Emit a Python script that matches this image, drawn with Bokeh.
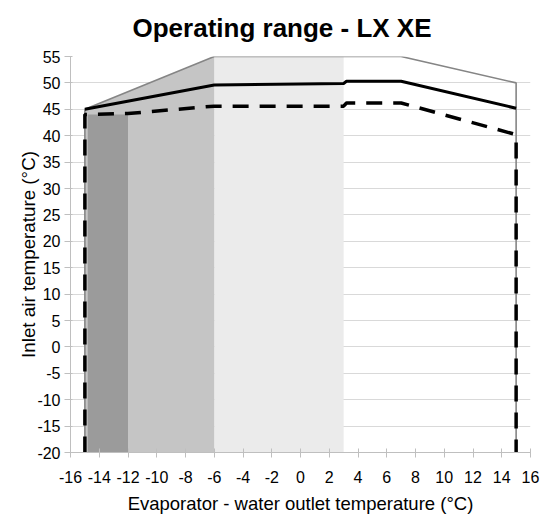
import numpy as np
from bokeh.plotting import figure
from bokeh.models import Range1d, FixedTicker
from bokeh.embed import file_html
from bokeh.resources import INLINE

# Operating envelope (outer limit), °C
envelope_x = [-15, -15, -6, 7, 15, 15]
envelope_y = [-20, 45, 55, 55, 50, -20]

# Upper limit, full load (solid)
solid_x = [-15, -6, 3, 3.2, 7, 15]
solid_y = [45, 49.6, 49.9, 50.3, 50.3, 45.2]

# Upper limit, partial load (dashed)
dashed_x = [-15, -15, -12, -6, 3, 3.2, 7, 15, 15]
dashed_y = [-20, 44, 44.2, 45.6, 45.6, 46.2, 46.2, 40.2, -20]

# Glycol zones along the evaporator outlet temperature
zone_dark = [-14.8, -12]
zone_dark_top = 44
zone_mid = [-15, -6]
zone_light = [-6, 3]

x_ticks = list(range(-16, 17, 2))
y_ticks = list(range(-20, 56, 5))

FONT = "Liberation Sans"

p = figure(width=547, height=516, output_backend="svg", toolbar_location=None,
           x_range=Range1d(-16, 16), y_range=Range1d(-20, 55),
           min_border_left=70, min_border_right=17,
           min_border_top=0, min_border_bottom=62,
           title="Operating range - LX XE")
p.outline_line_color = None
p.background_fill_color = "white"
p.border_fill_color = "white"

# chart title
p.title.text_font = FONT
p.title.text_font_size = "26px"
p.title.text_font_style = "bold"
p.title.text_color = "black"
p.title.align = "left"
p.title.offset = 62
p.title.vertical_align = "top"
p.title.standoff = 24

# upper (envelope) boundary used as top of shaded zones
top_x = envelope_x[1:-1]
top_y = envelope_y[1:-1]

def env_top(x):
    return float(np.interp(x, top_x, top_y))

# lightest zone, full height under the envelope
lx = [zone_light[0], zone_light[1], zone_light[1], zone_light[0]]
ly = [-20, -20, env_top(zone_light[1]), env_top(zone_light[0])]
p.patch(lx, ly, fill_color="#ebebeb", line_color=None)

# middle zone, up to the sloping envelope
mx = [zone_mid[0], zone_mid[1], zone_mid[1], zone_mid[0]]
my = [-20, -20, env_top(zone_mid[1]), env_top(zone_mid[0])]
p.patch(mx, my, fill_color="#c5c5c5", line_color=None)

# darkest zone
dx = [zone_dark[0], zone_dark[1], zone_dark[1], zone_dark[0]]
dy = [-20, -20, zone_dark_top, zone_dark_top]
p.patch(dx, dy, fill_color="#9b9b9b", line_color=None)

# limit lines
p.line(envelope_x, envelope_y, line_color="#858585", line_width=1.6)
p.line(solid_x, solid_y, line_color="black", line_width=3)
p.line(dashed_x, dashed_y, line_color="black", line_width=3.5,
       line_dash="16 11")

# grid
p.xgrid.visible = False
p.ygrid.grid_line_color = "#d9d9d9"
p.ygrid.grid_line_width = 1
p.ygrid.ticker = FixedTicker(ticks=y_ticks)

# axes (plain hyphen for negative tick labels)
p.xaxis.ticker = FixedTicker(ticks=x_ticks)
p.yaxis.ticker = FixedTicker(ticks=y_ticks)
p.xaxis.major_label_overrides = {t: str(t) for t in x_ticks}
p.yaxis.major_label_overrides = {t: str(t) for t in y_ticks}
for ax in (p.xaxis[0], p.yaxis[0]):
    ax.axis_line_color = "#bfbfbf"
    ax.major_tick_line_color = "#bfbfbf"
    ax.minor_tick_line_color = None
    ax.major_label_text_font = FONT
    ax.major_label_text_font_size = "16px"
    ax.major_label_text_color = "black"
    ax.axis_label_text_font = FONT
    ax.axis_label_text_font_size = "18.5px"
    ax.axis_label_text_font_style = "normal"
    ax.axis_label_text_color = "black"

p.xaxis.major_tick_out = 5
p.xaxis.major_tick_in = 4
p.xaxis.major_label_standoff = 13
p.xaxis.axis_label = "Evaporator - water outlet temperature (°C)"
p.xaxis.axis_label_standoff = 7

p.yaxis.major_tick_out = 6
p.yaxis.major_tick_in = 2
p.yaxis.major_label_standoff = 4
p.yaxis.axis_label = "Inlet air temperature (°C)"
p.yaxis.axis_label_text_font_size = "18.8px"
p.yaxis.axis_label_standoff = -5

open("out.html", "w").write(file_html(p, INLINE))
